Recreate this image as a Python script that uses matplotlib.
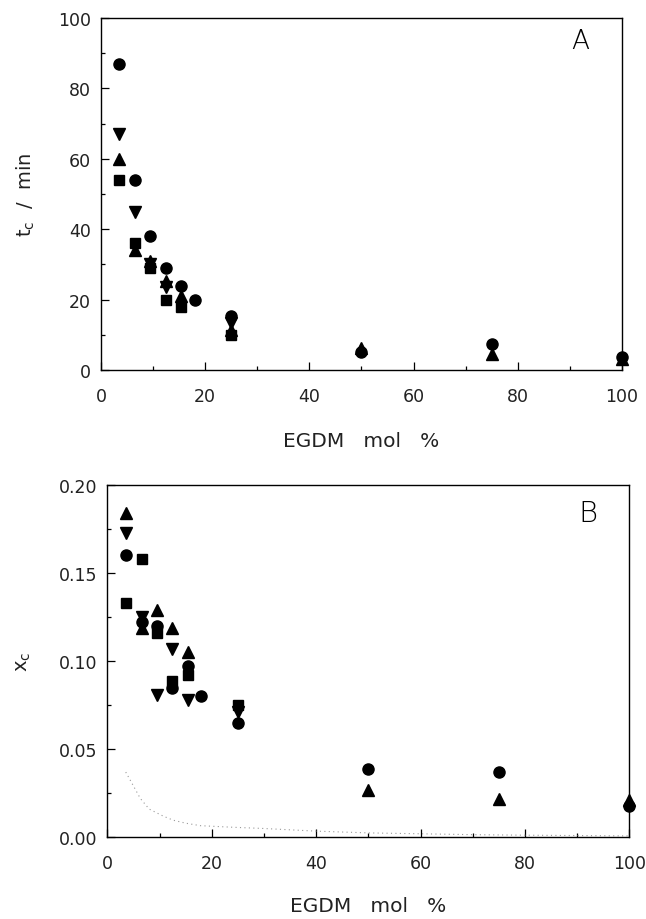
import matplotlib
matplotlib.use("Agg")
import matplotlib.pyplot as plt
from matplotlib.ticker import MultipleLocator, FormatStrFormatter

plt.rcParams['font.family'] = ['DejaVu Sans']

# ---- Panel A data (t_c / min) ----
a_circle_x = [3.5, 6.6, 9.4, 12.4, 15.4, 18, 25, 50, 75, 100]
a_circle_y = [87, 54, 38, 29, 24, 20, 15.4, 5, 7.3, 3.8]
a_up_x = [3.5, 6.6, 9.4, 12.4, 15.4, 25, 50, 75, 100]
a_up_y = [60, 34, 31, 25.2, 21, 11.5, 6.2, 4.5, 3]
a_down_x = [3.5, 6.6, 9.4, 12.4, 25]
a_down_y = [67, 45, 30, 23.5, 13.5]
a_square_x = [3.5, 6.6, 9.4, 12.4, 15.4, 25]
a_square_y = [54, 36, 29, 20, 18, 10]

# ---- Panel B data (x_c) ----
b_circle_x = [3.5, 6.6, 9.4, 12.4, 15.4, 18, 25, 50, 75, 100]
b_circle_y = [0.160, 0.122, 0.120, 0.085, 0.097, 0.080, 0.065, 0.039, 0.037, 0.018]
b_up_x = [3.5, 6.6, 9.4, 12.4, 15.4, 50, 75, 100]
b_up_y = [0.184, 0.119, 0.129, 0.119, 0.105, 0.027, 0.022, 0.021]
b_down_x = [3.5, 6.6, 9.4, 12.4, 15.4, 25]
b_down_y = [0.173, 0.125, 0.081, 0.107, 0.078, 0.071]
b_square_x = [3.5, 6.6, 9.4, 12.4, 15.4, 25]
b_square_y = [0.133, 0.158, 0.116, 0.089, 0.092, 0.075]

# dotted curve in panel B
b_line_x = [3.5, 5, 6.3, 8, 10.7, 12.6, 15, 17.8, 24, 30, 40, 50, 60, 70, 80, 90, 100]
b_line_y = [0.037, 0.029, 0.022, 0.016, 0.012, 0.0097, 0.008, 0.0066, 0.0057, 0.005,
            0.0035, 0.0025, 0.002, 0.0015, 0.0012, 0.001, 0.0008]

x_ticks = [0, 20, 40, 60, 80, 100]
a_y_ticks = [0, 20, 40, 60, 80, 100]
b_y_ticks = [0.00, 0.05, 0.10, 0.15, 0.20]

fig = plt.figure(figsize=(6.46, 9.2), dpi=100)
axA = fig.add_axes([0.1563, 0.5967, 0.8065, 0.3826])
axB = fig.add_axes([0.1664, 0.0888, 0.8077, 0.3830])

ms = 8
def draw(ax, cx, cy, ux, uy, dx, dy, sx, sy):
    ax.plot(sx, sy, 's', color='black', ms=ms - 0.8, ls='none', clip_on=False, zorder=3)
    ax.plot(ux, uy, '^', color='black', ms=ms, ls='none', clip_on=False, zorder=3)
    ax.plot(dx, dy, 'v', color='black', ms=ms, ls='none', clip_on=False, zorder=3)
    ax.plot(cx, cy, 'o', color='black', ms=ms, ls='none', clip_on=False, zorder=3)

draw(axA, a_circle_x, a_circle_y, a_up_x, a_up_y, a_down_x, a_down_y, a_square_x, a_square_y)
draw(axB, b_circle_x, b_circle_y, b_up_x, b_up_y, b_down_x, b_down_y, b_square_x, b_square_y)
axB.plot(b_line_x, b_line_y, ls=(0, (1, 3)), color='#999999', lw=0.8, zorder=2)

for ax in (axA, axB):
    ax.set_xlim(0, 100)
    ax.set_xticks(x_ticks)
    ax.xaxis.set_minor_locator(MultipleLocator(10))
    ax.tick_params(which='both', direction='in', top=False, right=False,
                   labelsize=12.5, width=0.9, labelcolor='#222222')
    ax.tick_params(which='major', length=6)
    ax.tick_params(which='minor', length=3)
    ax.tick_params(axis='x', pad=12)
    ax.tick_params(axis='y', pad=7)
    for s in ax.spines.values():
        s.set_linewidth(1.0)

axA.set_ylim(0, 100)
axA.set_yticks(a_y_ticks)
axA.yaxis.set_minor_locator(MultipleLocator(10))
axB.set_ylim(0, 0.20)
axB.set_yticks(b_y_ticks)
axB.yaxis.set_minor_locator(MultipleLocator(0.025))
axB.yaxis.set_major_formatter(FormatStrFormatter('%.2f'))

axA.set_xlabel('EGDM   mol   %', fontsize=14.5, labelpad=19, color='#222222')
axB.set_xlabel('EGDM   mol   %', fontsize=14.5, labelpad=17, color='#222222')
axA.set_ylabel(r't$_{\mathregular{c}}$  /  min', fontsize=14, labelpad=15, color='#222222')
axB.set_ylabel(r'x$_{\mathregular{c}}$', fontsize=14, labelpad=19, color='#222222')

axA.text(0.919, 0.9375, 'A', transform=axA.transAxes, fontsize=19,
         ha='center', va='center', fontweight='light')
axB.text(0.92, 0.92, 'B', transform=axB.transAxes, fontsize=21,
         ha='center', va='center', fontweight='light')

fig.savefig('out.png', dpi=100)
